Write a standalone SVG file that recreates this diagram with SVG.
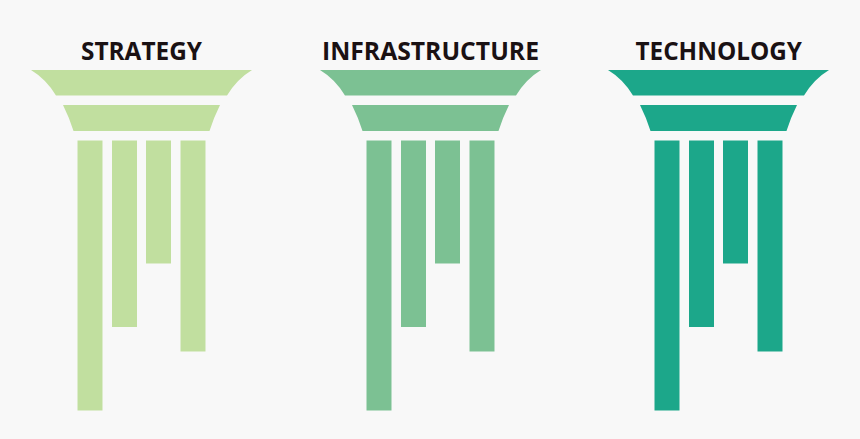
<svg xmlns="http://www.w3.org/2000/svg" width="860" height="439" viewBox="0 0 860 439">
<style>
text{font-family:"Open Sans","Noto Sans","Liberation Sans",sans-serif;font-weight:700;font-size:25px;fill:#1a1113}
.a{fill:#c1df9f}.b{fill:#7cc193}.c{fill:#1ca78a}
</style>
<defs>
<g id="pillar">
<path d="M31 70H252Q237 79 227 95.500H56Q46 79 31 70Z"/>
<path d="M63 105H220Q213.500 118 209.500 131H73.500Q69.500 118 63 105Z"/>
<rect x="77.500" y="140.500" width="25" height="270"/>
<rect x="112" y="140.500" width="25" height="186.500"/>
<rect x="146" y="140.500" width="25" height="123"/>
<rect x="180.500" y="140.500" width="25" height="211"/>
</g>
</defs>
<rect width="860" height="439" fill="#f8f8f8"/>
<g id="strategy"><use href="#pillar" class="a"/><text x="81" y="60" textLength="121" lengthAdjust="spacingAndGlyphs">STRATEGY</text></g>
<g id="infrastructure"><use href="#pillar" class="b" x="289"/><text x="322" y="60" textLength="217" lengthAdjust="spacingAndGlyphs">INFRASTRUCTURE</text></g>
<g id="technology"><use href="#pillar" class="c" x="577"/><text x="635.500" y="60" textLength="166.500" lengthAdjust="spacingAndGlyphs">TECHNOLOGY</text></g>
</svg>
